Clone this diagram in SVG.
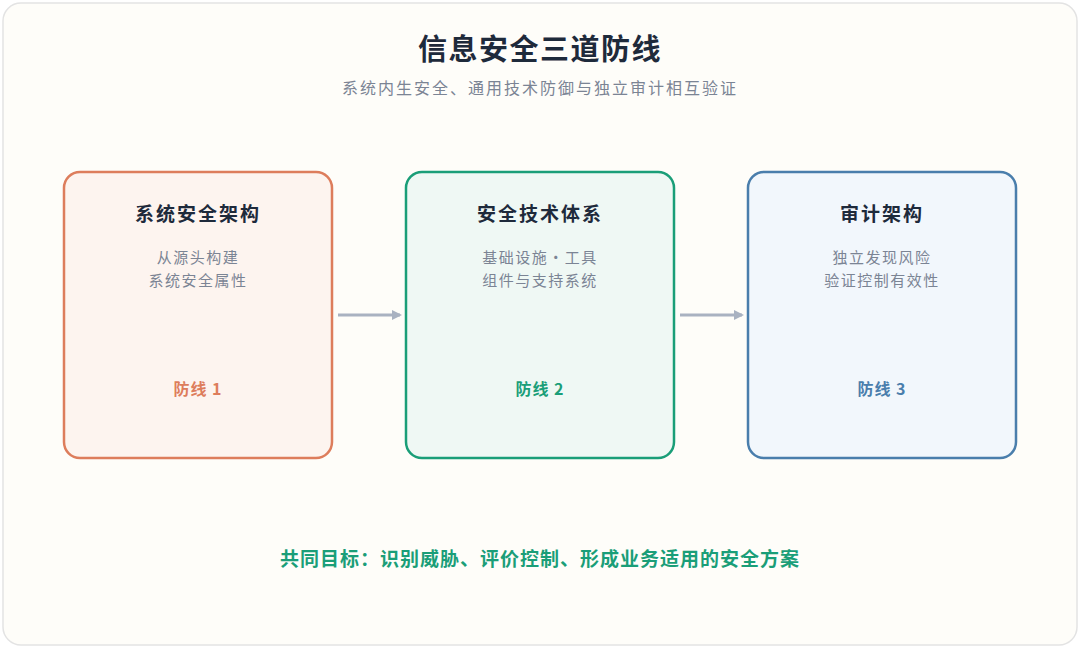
<svg xmlns="http://www.w3.org/2000/svg" width="1080" height="648" viewBox="0 0 1080 648">
<style>
text{font-family:"Noto Sans CJK SC","Noto Sans",sans-serif;text-anchor:middle}
.t{font-size:19px;font-weight:700;fill:#1e2a3b;letter-spacing:2px}
.d{font-size:15px;fill:#7b8494;letter-spacing:1.5px}
.l{font-size:16px;font-weight:700;letter-spacing:1px}
.box{stroke-width:2.5}
</style>
<defs><marker id="a" markerWidth="10" markerHeight="10" refX="8" refY="5" orient="auto" markerUnits="userSpaceOnUse"><path d="M0,0L10,5L0,10z" fill="#a9b2c1"/></marker></defs>
<rect x="3" y="3" width="1074" height="642" rx="18" fill="#fefdf9" stroke="#e3e3e3" stroke-width="1.5"/>
<text x="540" y="60" style="font-size:29px;font-weight:700;fill:#1e2a3b;letter-spacing:1.5px">信息安全三道防线</text>
<text x="540" y="94" style="font-size:16px;fill:#7b8494;letter-spacing:2px">系统内生安全、通用技术防御与独立审计相互验证</text>
<g id="n1"><rect class="box" x="64" y="172" width="268" height="286" rx="16" fill="#fdf4ef" stroke="#dd7d5c"/>
<text class="t" x="198" y="221">系统安全架构</text><text class="d" x="198" y="263">从源头构建</text><text class="d" x="198" y="286">系统安全属性</text>
<text class="l" x="198" y="395" fill="#dd7d5c">防线 1</text></g>
<g id="n2"><rect class="box" x="406" y="172" width="268" height="286" rx="16" fill="#eff8f4" stroke="#1a9e78"/>
<text class="t" x="540" y="221">安全技术体系</text><text class="d" x="540" y="263">基础设施·工具</text><text class="d" x="540" y="286">组件与支持系统</text>
<text class="l" x="540" y="395" fill="#1a9e78">防线 2</text></g>
<g id="n3"><rect class="box" x="748" y="172" width="268" height="286" rx="16" fill="#f2f7fc" stroke="#4a7eac"/>
<text class="t" x="882" y="221">审计架构</text><text class="d" x="882" y="263">独立发现风险</text><text class="d" x="882" y="286">验证控制有效性</text>
<text class="l" x="882" y="395" fill="#4a7eac">防线 3</text></g>
<g id="connectors" stroke="#a9b2c1" stroke-width="3" fill="none">
<line x1="338" y1="315" x2="400" y2="315" marker-end="url(#a)"/>
<line x1="680" y1="315" x2="742" y2="315" marker-end="url(#a)"/>
</g>
<text x="540" y="566" style="font-size:19px;font-weight:700;fill:#1a9e78;letter-spacing:1px">共同目标：识别威胁、评价控制、形成业务适用的安全方案</text>
</svg>
